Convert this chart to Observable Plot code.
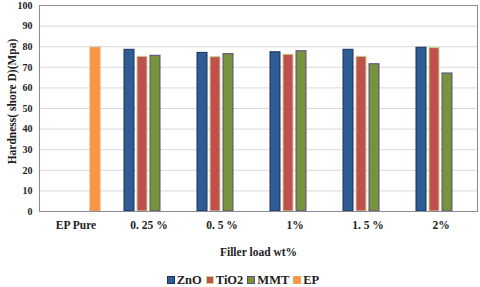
<!DOCTYPE html>
<html><head><meta charset="utf-8">
<script src="https://cdn.jsdelivr.net/npm/d3@7"></script>
<script src="https://cdn.jsdelivr.net/npm/@observablehq/plot@0.6"></script>
<style>
body{margin:0;background:#fff;font-family:"Liberation Serif","Times New Roman",serif;}
#legend{display:flex;justify-content:center;align-items:center;height:16px;padding-top:7px;font-weight:bold;font-size:12.5px;color:#222;margin-left:10px}
#legend span.item{display:inline-flex;align-items:center;margin:0 4px 0 0}
#legend i{display:inline-block;width:6px;height:6px;margin-right:2px;border:1px solid}
svg text{font-weight:bold}
</style></head><body>
<div id="chart"></div>
<div id="legend"></div>
<script>
const categories = ["EP Pure", "0. 25 %", "0. 5 %", "1%", "1. 5 %", "2%"];
const series = ["ZnO", "TiO2", "MMT", "EP"];
const ZnO  = [null, 78.5, 77.0, 77.3, 78.5, 79.5];
const TiO2 = [null, 75.1, 74.9, 76.1, 75.1, 79.3];
const MMT  = [null, 75.6, 76.4, 77.8, 71.5, 67.0];
const EP   = [79.5, null, null, null, null, null];
const yTicks = [0,10,20,30,40,50,60,70,80,90,100];
const yTitle = "Hardness( shore D)(Mpa)";
const xTitle = "Filler load wt%";
const fills = ["#2E5C95", "#C0504D", "#77933C", "#F79646"];
const strokes = ["#1C2F5E", "#C9D48A", "#5A4A86", "#F0A060"];

const valuesBySeries = {ZnO, TiO2, MMT, EP};
const data = [];
categories.forEach((c, i) => series.forEach(s => {
  const v = valuesBySeries[s][i];
  if (v != null) data.push({category: c, series: s, value: v});
}));

const chart = Plot.plot({
  width: 480, height: 265,
  marginLeft: 39, marginRight: 3, marginTop: 5, marginBottom: 54,
  style: {fontFamily: "'Liberation Serif','Times New Roman',serif", fontWeight: "bold", fontSize: "11px", color: "#222", background: "#fff"},
  fx: {domain: categories, padding: 0, label: null},
  x: {domain: series, paddingInner: 0.24, paddingOuter: 0.8, axis: null},
  y: {domain: [0, 100], ticks: yTicks},
  color: {domain: series, range: fills},
  marks: [
    Plot.ruleY(yTicks.slice(1, -1), {stroke: "#d9d9d9", strokeWidth: 1}),
    Plot.barY(data, {fx: "category", x: "series", y: "value", fill: "series",
      stroke: d => strokes[series.indexOf(d.series)], strokeWidth: 1}),
    Plot.axisY({ticks: yTicks, tickSize: 0, tickPadding: 7, fontSize: 10, fontWeight: "bold", label: null}),
    Plot.text([yTitle], {facet: "super", frameAnchor: "left", rotate: -90, textAnchor: "middle",
      dx: -27, dy: -7, fontSize: 11.5, fontWeight: "bold", fill: "#222"}),
    Plot.axisFx({anchor: "bottom", tickSize: 0, tickPadding: 9, fontSize: 11.5, fontWeight: "bold",
      label: xTitle, labelAnchor: "center", labelArrow: "none", labelOffset: 44}),
    Plot.frame({facet: "super", stroke: "#8a8a9a", strokeWidth: 1})
  ]
});
document.getElementById("chart").appendChild(chart);

const lg = document.getElementById("legend");
series.forEach((s, i) => {
  const it = document.createElement("span"); it.className = "item";
  const sw = document.createElement("i");
  sw.style.background = fills[i]; sw.style.borderColor = strokes[i];
  it.appendChild(sw); it.appendChild(document.createTextNode(s));
  lg.appendChild(it);
});
</script></body></html>
